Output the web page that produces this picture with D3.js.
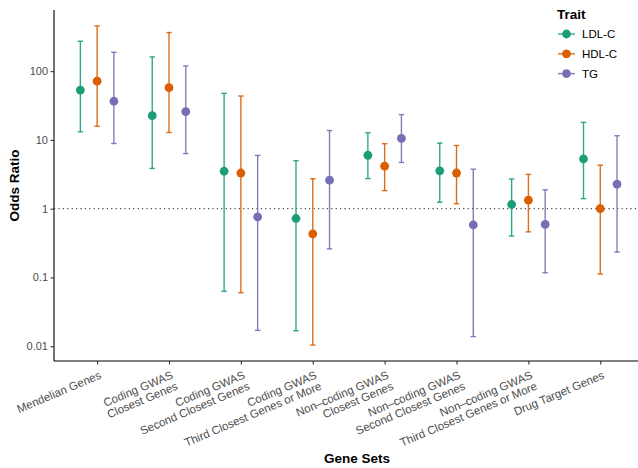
<!DOCTYPE html>
<html><head><meta charset="utf-8">
<script src="https://cdn.jsdelivr.net/npm/d3@7"></script>
<style>
body{margin:0;background:#fff;}
svg{display:block;font-family:"Liberation Sans",Arial,Helvetica,sans-serif;}
</style></head>
<body>
<svg id="chart" width="638" height="468"></svg>
<script>
const categories = [
  ["Mendelian Genes"],
  ["Coding GWAS","Closest Genes"],
  ["Coding GWAS","Second Closest Genes"],
  ["Coding GWAS","Third Closest Genes or More"],
  ["Non\u2013coding GWAS","Closest Genes"],
  ["Non\u2013coding GWAS","Second Closest Genes"],
  ["Non\u2013coding GWAS","Third Closest Genes or More"],
  ["Drug Target Genes"]
];
const traits = ["LDL-C","HDL-C","TG"];
const traitColors = ["#1B9E77","#D95F02","#7570B3"];

// odds ratio estimates per trait, one per category
const ldlOR  = [53, 22.5, 3.5, 0.72, 5.98, 3.55, 1.15, 5.3];
const ldlLo  = [13.1, 3.85, 0.063, 0.0168, 2.74, 1.24, 0.40, 1.40];
const ldlHi  = [272, 161, 47.5, 5.0, 12.7, 9.0, 2.7, 18.0];

const hdlOR  = [71.5, 57.5, 3.3, 0.43, 4.15, 3.3, 1.33, 1.0];
const hdlLo  = [15.8, 12.8, 0.06, 0.0104, 1.83, 1.18, 0.46, 0.112];
const hdlHi  = [454, 364, 43.5, 2.72, 8.8, 8.3, 3.15, 4.3];

const tgOR   = [36.5, 25.7, 0.76, 2.6, 10.5, 0.58, 0.59, 2.28];
const tgLo   = [8.86, 6.33, 0.017, 0.26, 4.7, 0.0138, 0.117, 0.234];
const tgHi   = [188, 119, 5.95, 13.7, 23.3, 3.75, 1.88, 11.5];

const yTicks = [0.01, 0.1, 1, 10, 100];
const yTickLabels = ["0.01","0.1","1","10","100"];

const seriesOR = [ldlOR, hdlOR, tgOR];
const seriesLo = [ldlLo, hdlLo, tgLo];
const seriesHi = [ldlHi, hdlHi, tgHi];

const rows = [];
traits.forEach((t, ti) => {
  categories.forEach((c, ci) => {
    rows.push({cat: ci, trait: ti, or: seriesOR[ti][ci], lo: seriesLo[ti][ci], hi: seriesHi[ti][ci]});
  });
});

const svg = d3.select("#chart");
const panel = {left: 54, right: 643.4, top: 10, bottom: 361};

// y: log scale with 5% expansion in log space
const lmin = Math.log10(d3.min(rows, d => d.lo));
const lmax = Math.log10(d3.max(rows, d => d.hi));
const ext = 0.05 * (lmax - lmin);
const y = d3.scaleLog()
  .domain([Math.pow(10, lmin - ext), Math.pow(10, lmax + ext)])
  .range([panel.bottom, panel.top]);

const x = d3.scalePoint()
  .domain(d3.range(categories.length))
  .range([panel.left, panel.right])
  .padding(0.6);
const step = x.step();
const dodge = d3.scalePoint().domain(d3.range(traits.length)).range([-0.7*step/3, 0.7*step/3]);

const color = d3.scaleOrdinal().domain(d3.range(traits.length)).range(traitColors);

// reference line at OR = 1
svg.append("line")
  .attr("x1", panel.left).attr("x2", 638)
  .attr("y1", y(1)).attr("y2", y(1))
  .attr("stroke", "#222").attr("stroke-width", 1)
  .attr("stroke-dasharray", "1.2,3.2");

// error bars
const g = svg.append("g");
const bars = g.selectAll("g.bar").data(rows).enter().append("g")
  .attr("stroke", d => color(d.trait))
  .attr("stroke-width", 1.4)
  .attr("stroke-opacity", 0.9);
bars.append("line")
  .attr("x1", d => x(d.cat) + dodge(d.trait)).attr("x2", d => x(d.cat) + dodge(d.trait))
  .attr("y1", d => y(d.lo)).attr("y2", d => y(d.hi));
bars.append("line")
  .attr("x1", d => x(d.cat) + dodge(d.trait) - 2.7).attr("x2", d => x(d.cat) + dodge(d.trait) + 2.7)
  .attr("y1", d => y(d.lo)).attr("y2", d => y(d.lo));
bars.append("line")
  .attr("x1", d => x(d.cat) + dodge(d.trait) - 2.7).attr("x2", d => x(d.cat) + dodge(d.trait) + 2.7)
  .attr("y1", d => y(d.hi)).attr("y2", d => y(d.hi));

// points
g.selectAll("circle").data(rows).enter().append("circle")
  .attr("cx", d => x(d.cat) + dodge(d.trait))
  .attr("cy", d => y(d.or))
  .attr("r", 4.4)
  .attr("fill", d => color(d.trait));

// y axis
const yAxis = d3.axisLeft(y).tickValues(yTicks).tickFormat((d, i) => yTickLabels[i]).tickSize(3.5).tickPadding(2.5);
const ya = svg.append("g").attr("transform", `translate(${panel.left},0)`).call(yAxis);
ya.select(".domain").attr("d", `M0,${panel.top}V${panel.bottom}`).attr("stroke", "#000").attr("stroke-width", 1.1);
ya.selectAll(".tick line").attr("stroke", "#333").attr("stroke-width", 1.1);
ya.selectAll(".tick text").attr("font-size", 11).attr("fill", "#4d4d4d").attr("font-family", "Liberation Sans, Arial, sans-serif");

// x axis
const xAxis = d3.axisBottom(x).tickSize(3.5).tickFormat(() => "");
const xa = svg.append("g").attr("transform", `translate(0,${panel.bottom})`).call(xAxis);
xa.select(".domain").attr("d", `M${panel.left},0H638`).attr("stroke", "#000").attr("stroke-width", 1.1);
xa.selectAll(".tick line").attr("stroke", "#333").attr("stroke-width", 1.1);
xa.selectAll(".tick text").remove();

// rotated x labels
const angle = -23;
const xl = svg.append("g");
categories.forEach((lines, ci) => {
  const t = xl.append("text")
    .attr("transform", `translate(${x(ci) + 1.5},${panel.bottom + 9}) rotate(${angle})`)
    .attr("text-anchor", "end")
    .attr("font-size", 11.5)
    .attr("fill", "#4d4d4d");
  lines.forEach((ln, li) => {
    t.append("tspan").attr("x", 0).attr("dy", li === 0 ? "0.75em" : "1.05em").text(ln);
  });
});

// axis titles
svg.append("text")
  .attr("x", 357).attr("y", 463)
  .attr("text-anchor", "middle")
  .attr("font-size", 13.5).attr("font-weight", "bold")
  .text("Gene Sets");
svg.append("text")
  .attr("transform", `translate(19,${(panel.top + panel.bottom) / 2}) rotate(-90)`)
  .attr("text-anchor", "middle")
  .attr("font-size", 13.5).attr("font-weight", "bold")
  .text("Odds Ratio");

// legend
const lg = svg.append("g").attr("transform", "translate(557,0)");
lg.append("text").attr("x", 0).attr("y", 19).attr("font-size", 13.5).attr("font-weight", "bold").text("Trait");
traits.forEach((t, i) => {
  const yy = 34 + i * 19.8;
  lg.append("line").attr("x1", 1).attr("x2", 18).attr("y1", yy).attr("y2", yy)
    .attr("stroke", traitColors[i]).attr("stroke-width", 1.4).attr("stroke-opacity", 0.9);
  lg.append("circle").attr("cx", 9.5).attr("cy", yy).attr("r", 4.4).attr("fill", traitColors[i]);
  lg.append("text").attr("x", 25).attr("y", yy + 4).attr("font-size", 11.5).attr("fill", "#000").text(t);
});
</script>
</body></html>
